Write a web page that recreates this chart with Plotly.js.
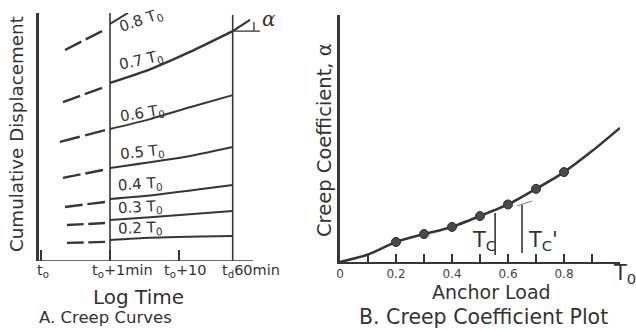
<!DOCTYPE html>
<html>
<head>
<meta charset="utf-8">
<script src="https://cdn.plot.ly/plotly-3.0.1.min.js"></script>
<style>html,body{margin:0;padding:0;background:#fff;}#chart{width:636px;height:330px;}</style>
</head>
<body>
<div id="chart"></div>
<script>
// ---------- Panel A: creep curves (time in minutes, log scale; displacement arbitrary units) ----------
const loadLabels = ["0.2", "0.3", "0.4", "0.5", "0.6", "0.7", "0.8"];
const solidTime = [[1, 3.8, 60], [1, 3.8, 60], [1, 3.8, 60], [1, 11.4, 60], [1, 3.8, 14.4, 60], [1, 3.8, 14.4, 60], [1, 1.82]];
const solidDisp = [[8.5, 9.4, 10.1], [16.5, 17.6, 20.2], [25.0, 26.4, 30.6], [37.5, 41.8, 46.0], [53.2, 57.2, 62.0, 66.9], [71.8, 77.3, 84.3, 92.7], [95.6, 100]];
const dashTime = [[0.238, 0.846], [0.238, 0.846], [0.223, 0.846], [0.208, 0.79], [0.188, 0.846], [0.208, 0.766], [0.223, 0.766]];
const dashDisp = [[7.3, 7.7], [14.5, 15.3], [21.8, 23.8], [33.5, 36.7], [48.0, 52.8], [64.1, 69.8], [85.1, 92.7]];
const slopeTime = [60, 106.9];
const slopeDisp = [92.7, 97.2];
const timeTicks = [0.1, 1, 10, 60];
const timeTickText = ["t<sub>o</sub>", "t<sub>o</sub>+1min", "t<sub>o</sub>+10", "t<sub>d</sub>60min"];

// ---------- Panel B: creep coefficient vs anchor load ----------
const anchorLoad = [0.2, 0.3, 0.4, 0.5, 0.6, 0.7, 0.8];
const creepCoef = [0.81, 1.13, 1.42, 1.86, 2.33, 2.96, 3.64];
const curveLoad = [0, 0.1, 0.2, 0.3, 0.4, 0.5, 0.6, 0.7, 0.8, 0.9, 1.0];
const curveCoef = [0, 0.3, 0.81, 1.13, 1.42, 1.86, 2.33, 2.96, 3.64, 4.49, 5.43];
const loadTicks = [0, 0.2, 0.4, 0.6, 0.8];
const loadTickText = ["0", "0.2", "0.4", "0.6", "0.8"];
const tcLoad = 0.554, tcCoef = [0.28, 1.98];
const tcPrimeLoad = 0.65, tcPrimeCoef = [0.36, 2.31];

const INK = "#363636";
const FONT = "DejaVu Sans, Liberation Sans, Arial, sans-serif";
const W = 636, H = 330;
const px = v => v / W, py = v => 1 - v / H;

// split a two-point extrapolation into two dashes (in log-time space)
function twoDashes(t, d) {
  const l0 = Math.log10(t[0]), l1 = Math.log10(t[1]);
  const at = f => [Math.pow(10, l0 + f * (l1 - l0)), d[0] + f * (d[1] - d[0])];
  const pts = [at(0), at(0.44), null, at(0.56), at(1)];
  return {x: pts.map(p => p ? p[0] : null), y: pts.map(p => p ? p[1] : null)};
}

const traces = [];
for (let i = 0; i < loadLabels.length; i++) {
  traces.push({x: solidTime[i], y: solidDisp[i], xaxis: "x", yaxis: "y", mode: "lines",
    line: {color: INK, width: i === 5 ? 2.4 : 2, shape: "spline", smoothing: 0.6}, hoverinfo: "skip", showlegend: false});
  const dd = twoDashes(dashTime[i], dashDisp[i]);
  traces.push({x: dd.x, y: dd.y, xaxis: "x", yaxis: "y", mode: "lines", connectgaps: false,
    line: {color: INK, width: 2.4}, hoverinfo: "skip", showlegend: false});
}
traces.push({x: slopeTime, y: slopeDisp, xaxis: "x", yaxis: "y", mode: "lines",
  line: {color: INK, width: 2.2}, hoverinfo: "skip", showlegend: false});
traces.push({x: curveLoad, y: curveCoef, xaxis: "x2", yaxis: "y2", mode: "lines",
  line: {color: INK, width: 2.6, shape: "spline", smoothing: 0.7}, hoverinfo: "skip", showlegend: false});
traces.push({x: anchorLoad, y: creepCoef, xaxis: "x2", yaxis: "y2", mode: "markers",
  marker: {color: "#4a4a4a", size: 9, line: {color: "#2e2e2e", width: 1}}, showlegend: false});

const shapes = [
  {type: "line", xref: "x domain", yref: "y", x0: 0, x1: 0.9068, y0: 0, y1: 0, line: {color: INK, width: 1.6}},
  {type: "line", xref: "x", yref: "y", x0: timeTicks[1], x1: timeTicks[1], y0: 0, y1: 100, line: {color: INK, width: 1.6}},
  {type: "line", xref: "x", yref: "y", x0: timeTicks[3], x1: timeTicks[3], y0: 0, y1: 99.2, line: {color: INK, width: 1.6}},
  {type: "line", xref: "x", yref: "y", x0: 60, x1: 148.8, y0: 92.7, y1: 92.7, line: {color: INK, width: 1.3}},
  {type: "line", xref: "x", yref: "y", x0: 122, x1: 122, y0: 92.7, y1: 96.4, line: {color: INK, width: 1.3}},
  {type: "line", xref: "x2", yref: "y2", x0: tcLoad, x1: tcLoad, y0: tcCoef[0], y1: tcCoef[1], line: {color: INK, width: 1.6}},
  {type: "line", xref: "x2", yref: "y2", x0: tcPrimeLoad, x1: tcPrimeLoad, y0: tcPrimeCoef[0], y1: tcPrimeCoef[1], line: {color: INK, width: 1.6}},
  {type: "line", xref: "x2", yref: "y2", x0: 0.632, x1: 0.686, y0: 2.27, y1: 2.47, line: {color: "#777", width: 1}}
];

const ann = (text, x, y, size, opts = {}) => Object.assign({
  text, x: px(x), y: py(y), xref: "paper", yref: "paper", showarrow: false,
  xanchor: "center", yanchor: "middle", font: {family: FONT, size, color: "#333"}
}, opts);

const tickLabelX = [43, 122, 185, 251];
const annotations = [
  ann("Cumulative Displacement", 17, 134, 18.3, {textangle: -90}),
  ann("Log Time", 138, 297, 20),
  ann("A. Creep Curves", 105, 317, 16.5),
  ann("0.8 T<sub>0</sub>", 141, 21, 15, {textangle: -19}),
  ann("0.7 T<sub>0</sub>", 141, 61, 15, {textangle: -13}),
  ann("0.6 T<sub>0</sub>", 142, 113, 15, {textangle: -9}),
  ann("0.5 T<sub>0</sub>", 142, 152, 15, {textangle: -6}),
  ann("0.4 T<sub>0</sub>", 140, 185, 15, {textangle: -4}),
  ann("0.3 T<sub>0</sub>", 140, 208, 15, {textangle: -3}),
  ann("0.2 T<sub>0</sub>", 140, 228, 15, {textangle: -2}),
  ann("<i>α</i>", 269, 19, 20, {font: {family: "DejaVu Serif, serif", size: 20, color: "#333"}}),
  ann("Creep Coefficient, α", 324, 140, 19.5, {textangle: -90}),
  ann("Anchor Load", 491, 292, 19),
  ann("B. Creep Coefficient Plot", 483, 317, 20.5),
  ann("T<sub>C</sub>", 484, 241, 21),
  ann("T<sub>C</sub>'", 543, 241, 21),
  ann("T<sub>0</sub>", 624, 274, 21)
];
for (let i = 0; i < timeTickText.length; i++) {
  annotations.push(ann(timeTickText[i], tickLabelX[i], 271, 14.5));
}

const layout = {
  width: W, height: H,
  margin: {l: 0, r: 0, t: 0, b: 0},
  paper_bgcolor: "#ffffff", plot_bgcolor: "rgba(0,0,0,0)",
  showlegend: false,
  font: {family: FONT, color: "#333"},
  xaxis: {type: "log", domain: [px(39), px(275)], range: [-71 / 69, 165 / 69], anchor: "y",
    showline: false, showgrid: false, zeroline: false,
    ticks: "inside", ticklen: 11, tickwidth: 1.5, tickcolor: INK,
    tickvals: timeTicks, showticklabels: false},
  yaxis: {domain: [py(261), py(13)], range: [0, 100], anchor: "x",
    showline: true, linewidth: 3, linecolor: INK, showgrid: false, zeroline: false,
    ticks: "", showticklabels: false},
  xaxis2: {domain: [px(340), px(620)], range: [0, 1], anchor: "y2",
    showline: true, linewidth: 2, linecolor: INK, showgrid: false, zeroline: false,
    ticks: "inside", ticklen: 8, tickwidth: 1.5, tickcolor: INK,
    tickvals: loadTicks, ticktext: loadTickText,
    minor: {tick0: 0, dtick: 0.1, ticks: "inside", ticklen: 8, tickwidth: 1.5, tickcolor: INK, showgrid: false},
    tickfont: {family: FONT, size: 12, color: "#444"}},
  yaxis2: {domain: [py(262), py(15)], range: [0, 10], anchor: "x2",
    showline: true, linewidth: 3, linecolor: INK, showgrid: false, zeroline: false,
    ticks: "", showticklabels: false},
  shapes, annotations
};

Plotly.newPlot("chart", traces, layout, {staticPlot: true, displayModeBar: false});
</script>
</body>
</html>
